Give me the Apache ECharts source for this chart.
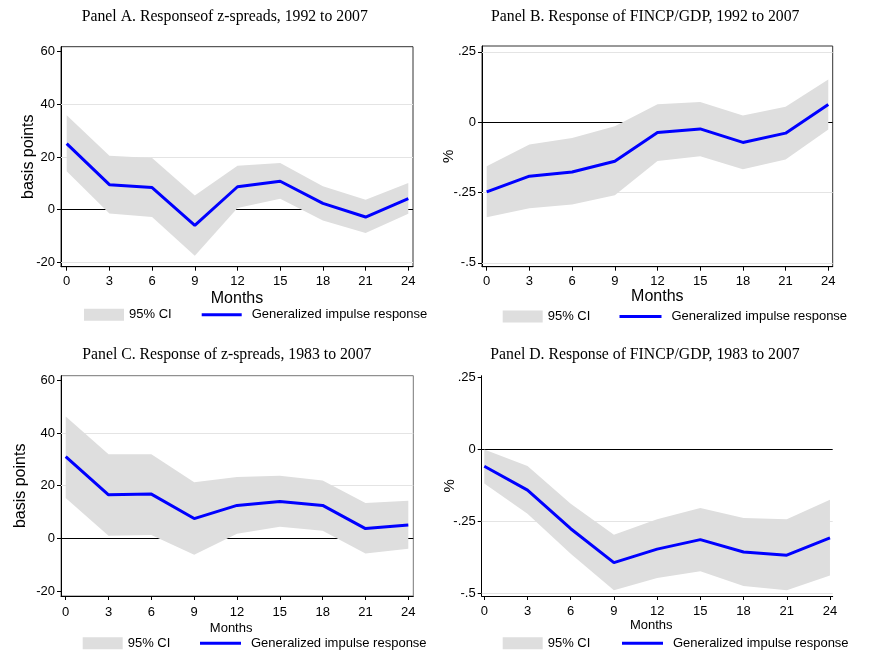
<!DOCTYPE html>
<html><head><meta charset="utf-8">
<script src="https://cdn.jsdelivr.net/npm/echarts@6/dist/echarts.min.js"></script>
<style>html,body{margin:0;padding:0;background:#fff}#c{width:872px;height:660px}</style>
</head><body><div id="c"></div>
<script>
// ---------- data ----------
const months = [0, 3, 6, 9, 12, 15, 18, 21, 24];

const irfA = [25.1, 9.5, 8.4, -6.0, 8.7, 10.8, 2.4, -2.8, 4.2];
const loA  = [14.6, -1.5, -2.8, -17.5, 0.6, 4.1, -4.1, -8.9, -1.6];
const hiA  = [35.9, 20.5, 19.6, 5.4, 16.7, 17.7, 8.9, 3.8, 10.1];

const irfB = [-0.248, -0.192, -0.177, -0.139, -0.037, -0.024, -0.072, -0.039, 0.063];
const loB  = [-0.338, -0.306, -0.293, -0.260, -0.138, -0.121, -0.167, -0.133, -0.026];
const hiB  = [-0.157, -0.079, -0.056, -0.014, 0.064, 0.072, 0.024, 0.055, 0.152];

const irfC = [31.0, 16.5, 16.8, 7.5, 12.5, 14.0, 12.5, 3.7, 5.1];
const loC  = [15.3, 1.0, 1.3, -6.2, 1.7, 4.4, 2.9, -5.8, -4.0];
const hiC  = [46.3, 31.9, 31.9, 21.3, 23.3, 23.8, 22.0, 13.4, 14.3];

const irfD = [-0.058, -0.141, -0.275, -0.393, -0.346, -0.313, -0.356, -0.367, -0.307];
const loD  = [-0.118, -0.223, -0.362, -0.489, -0.446, -0.423, -0.474, -0.489, -0.438];
const hiD  = [0.0, -0.057, -0.188, -0.296, -0.242, -0.203, -0.238, -0.242, -0.174];

const ticksBP  = [-20, 0, 20, 40, 60];
const ticksPct = [-0.5, -0.25, 0, 0.25];
const gridA = [-20, 20, 40];
const gridB = [-0.5, -0.25, 0.25];
const gridC = [20, 40];
const gridD = [-0.5, -0.25];

const titles = [
  'Panel A. Responseof z-spreads, 1992 to 2007',
  'Panel B. Response of FINCP/GDP, 1992 to 2007',
  'Panel C. Response of z-spreads, 1983 to 2007',
  'Panel D. Response of FINCP/GDP, 1983 to 2007'
];
const yNames = ['basis points', '%', 'basis points', '%'];
const xName = 'Months';
const ciName = '95% CI';
const irfName = 'Generalized impulse response';

// ---------- layout ----------
const SANS = 'Liberation Sans, Arial, sans-serif';
const SERIF = 'Liberation Serif, Times New Roman, serif';
const BAND = '#dedede';
const panels = [
  {irf: irfA, lo: loA, hi: hiA, ticks: ticksBP, glines: gridA,
   left: 61, top: 46.7, width: 352, height: 220, xMin: -0.40, xMax: 24.33, yMin: -21.67, yMax: 61.9,
   box: true, boxColor: '#333', yGap: 24.5, yNameSize: 16, xGap: 23.5, xNameSize: 16, xShift: 0, xLabMargin: 8.5,
   tLeft: 81.7, tTop: 9, ciLeft: 84, lnLeft: 201.7, lnW: 40, legY: 315.8},
  {irf: irfB, lo: loB, hi: hiB, ticks: ticksPct, glines: gridB,
   left: 482, top: 46, width: 350.7, height: 220.7, xMin: -0.33, xMax: 24.31, yMin: -0.514, yMax: 0.271,
   box: true, boxColor: '#333', yGap: 25.5, yNameSize: 15, xGap: 21.5, xNameSize: 16, xShift: 0, xLabMargin: 8.5,
   tLeft: 491, tTop: 9, ciLeft: 502.7, lnLeft: 619.5, lnW: 42, legY: 317.5},
  {irf: irfC, lo: loC, hi: hiC, ticks: ticksBP, glines: gridC,
   left: 61, top: 375.7, width: 352.3, height: 220.3, xMin: -0.33, xMax: 24.35, yMin: -21.9, yMax: 61.75,
   box: true, boxColor: '#777', yGap: 32, yNameSize: 16, xGap: 26, xNameSize: 13, xShift: 12, xLabMargin: 9.5,
   tLeft: 82.3, tTop: 346.5, ciLeft: 82.7, lnLeft: 200, lnW: 41, legY: 644.2},
  {irf: irfD, lo: loD, hi: hiD, ticks: ticksPct, glines: gridD,
   left: 481.7, top: 375.7, width: 351, height: 220.3, xMin: -0.18, xMax: 24.19, yMin: -0.509, yMax: 0.257,
   box: false, boxColor: '#777', yGap: 24.5, yNameSize: 15, xGap: 22.5, xNameSize: 13, xShift: 12, xLabMargin: 9,
   tLeft: 490.3, tTop: 346.5, ciLeft: 502.7, lnLeft: 622, lnW: 41, legY: 644.2}
];

function fmtPct(v) {
  if (v === 0) return '0';
  const s = String(Math.abs(v)).replace(/^0/, '');
  return (v < 0 ? '-' : '') + s;
}

const option = {
  animation: false,
  backgroundColor: '#fff',
  title: [], grid: [], xAxis: [], yAxis: [], series: [], legend: []
};

panels.forEach((p, i) => {
  option.title.push({
    text: titles[i], left: p.tLeft, top: p.tTop, padding: 0,
    textStyle: {fontFamily: SERIF, fontSize: 15.75, fontWeight: 'normal', color: '#000'}
  });
  option.grid.push({
    left: p.left, top: p.top, width: p.width, height: p.height,
    show: p.box, borderColor: p.boxColor, borderWidth: 1, backgroundColor: 'transparent'
  });
  option.xAxis.push({
    type: 'value', gridIndex: i, min: p.xMin, max: p.xMax,
    name: xName, nameLocation: 'middle', nameGap: p.xGap, nameMoveOverlap: false,
    nameTextStyle: {fontFamily: SANS, fontSize: p.xNameSize, color: '#000', padding: [0, p.xShift, 0, 0]},
    axisLine: {show: true, onZero: false, lineStyle: {color: '#000', width: 1}},
    axisTick: {show: true, customValues: months, length: 4, inside: false, lineStyle: {color: '#000'}},
    axisLabel: {customValues: months, margin: p.xLabMargin, fontFamily: SANS, fontSize: 13, color: '#000'},
    splitLine: {show: false}
  });
  option.yAxis.push({
    type: 'value', gridIndex: i, min: p.yMin, max: p.yMax,
    name: yNames[i], nameLocation: 'middle', nameGap: p.yGap, nameMoveOverlap: false,
    nameTextStyle: {fontFamily: SANS, fontSize: p.yNameSize, color: '#000'},
    axisLine: {show: true, onZero: false, lineStyle: {color: '#000', width: 1}},
    axisTick: {show: true, customValues: p.ticks, length: 4, inside: false, lineStyle: {color: '#000'}},
    axisLabel: {customValues: p.ticks, margin: 6, fontFamily: SANS, fontSize: 13, color: '#000',
      formatter: p.ticks === ticksPct ? fmtPct : (v => String(v))},
    splitLine: {show: false}
  });
  // gridlines + zero line (drawn behind the band)
  option.series.push({
    type: 'line', xAxisIndex: i, yAxisIndex: i, data: [], z: 1, silent: true,
    markLine: {
      z: 1, silent: true, symbol: 'none', label: {show: false}, animation: false,
      data: p.glines.map(v => ({yAxis: v, lineStyle: {color: '#e4e4e4', width: 1, type: 'solid'}}))
        .concat([{yAxis: 0, lineStyle: {color: '#000', width: 1, type: 'solid'}}])
    }
  });
  // CI band as a polygon through the axis scales
  const lo = p.lo, hi = p.hi;
  option.series.push({
    type: 'custom', name: ciName, xAxisIndex: i, yAxisIndex: i, z: 2, silent: true,
    itemStyle: {color: BAND},
    encode: {x: 0, y: [1, 2]},
    data: months.map((m, k) => [m, lo[k], hi[k]]),
    renderItem: function (params, api) {
      if (params.dataIndex !== 0) return null;
      const upper = months.map((m, k) => api.coord([m, hi[k]]));
      const lower = months.map((m, k) => api.coord([m, lo[k]])).reverse();
      return {type: 'polygon', shape: {points: upper.concat(lower)}, style: {fill: BAND}};
    }
  });
  option.series.push({
    type: 'line', name: irfName, xAxisIndex: i, yAxisIndex: i, z: 3,
    symbol: 'none', silent: true, color: '#0000ff',
    lineStyle: {color: '#0000ff', width: 3},
    data: months.map((m, k) => [m, p.irf[k]])
  });
  option.legend.push({
    data: [{name: ciName, icon: 'rect', itemStyle: {color: BAND}}], left: p.ciLeft, top: p.legY - 7.5, padding: 0,
    itemWidth: 40, itemHeight: 12, selectedMode: false,
    textStyle: {fontFamily: SANS, fontSize: 13, color: '#000'}
  });
  option.legend.push({
    data: [{name: irfName, icon: 'path://M0,0H40V3H0Z', itemStyle: {color: '#0000ff'}}],
    left: p.lnLeft, top: p.legY - 7.5, padding: 0, symbolKeepAspect: true,
    itemWidth: p.lnW, itemHeight: 12, selectedMode: false,
    textStyle: {fontFamily: SANS, fontSize: 13, color: '#000', padding: [0, 0, 0, 5]}
  });
});

const chart = echarts.init(document.getElementById('c'), null, {renderer: 'canvas'});
chart.setOption(option);
</script>
</body></html>
